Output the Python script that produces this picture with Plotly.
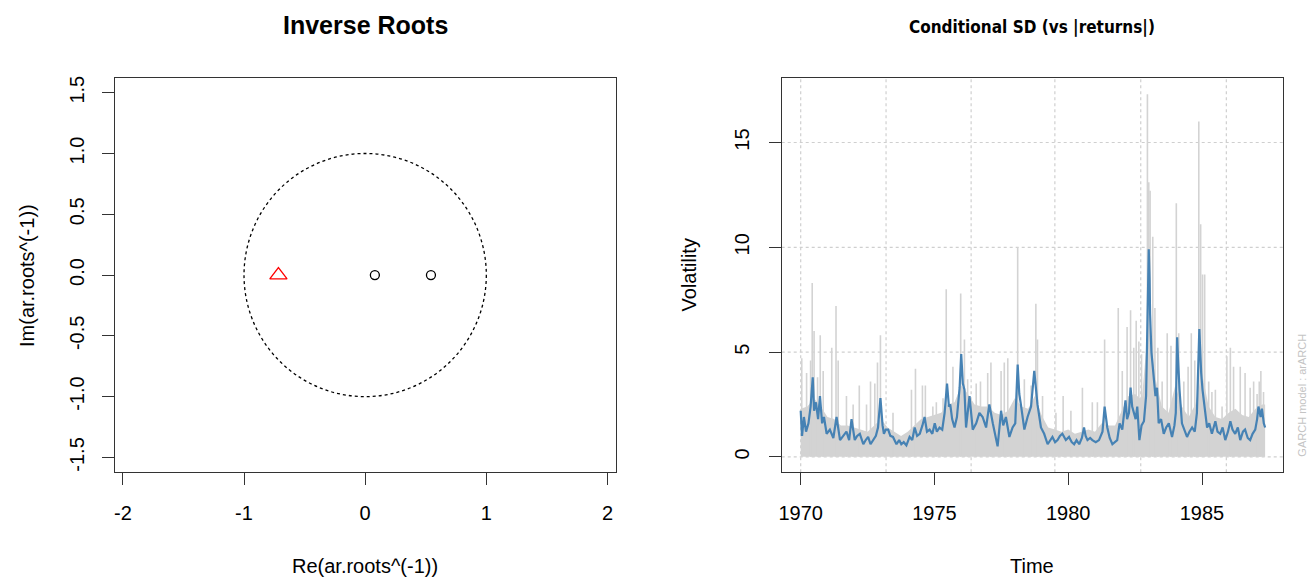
import plotly.graph_objects as go

# ---------------- Left panel data: inverse AR roots ----------------
root_re = [0.08, 0.543]
root_im = [0.0, 0.0]
ma_root_re = [-0.716]
ma_root_im = [0.0]
x_ticks = [-2, -1, 0, 1, 2]
x_tick_text = ["-2", "-1", "0", "1", "2"]
y_ticks = [-1.5, -1.0, -0.5, 0.0, 0.5, 1.0, 1.5]
y_tick_text = ["-1.5", "-1.0", "-0.5", "0.0", "0.5", "1.0", "1.5"]

# ---------------- Right panel data: conditional SD vs |returns| ----------------
sd_time = [1970.00, 1970.05, 1970.12, 1970.20, 1970.29, 1970.37, 1970.45, 1970.50, 1970.57, 1970.65,
           1970.72, 1970.80, 1970.87, 1970.97, 1971.09, 1971.22, 1971.34, 1971.47, 1971.59, 1971.71,
           1971.81, 1971.90, 1972.02, 1972.11, 1972.21, 1972.34, 1972.43, 1972.52, 1972.61, 1972.71,
           1972.81, 1972.89, 1972.98, 1973.06, 1973.11, 1973.18, 1973.27, 1973.35, 1973.45, 1973.58,
           1973.68, 1973.76, 1973.85, 1973.95, 1974.07, 1974.17, 1974.26, 1974.35, 1974.45, 1974.55,
           1974.63, 1974.72, 1974.82, 1974.92, 1975.01, 1975.09, 1975.19, 1975.29, 1975.38, 1975.47,
           1975.54, 1975.59, 1975.66, 1975.75, 1975.84, 1975.94, 1976.00, 1976.06, 1976.12, 1976.18,
           1976.31, 1976.43, 1976.56, 1976.68, 1976.80, 1976.93, 1977.05, 1977.18, 1977.28, 1977.36,
           1977.49, 1977.57, 1977.67, 1977.80, 1977.92, 1978.02, 1978.11, 1978.17, 1978.23, 1978.36,
           1978.48, 1978.61, 1978.73, 1978.79, 1978.85, 1978.98, 1979.10, 1979.23, 1979.33, 1979.41,
           1979.51, 1979.60, 1979.69, 1979.78, 1979.91, 1980.03, 1980.13, 1980.22, 1980.31, 1980.41,
           1980.51, 1980.59, 1980.65, 1980.72, 1980.82, 1980.90, 1981.03, 1981.15, 1981.28, 1981.36,
           1981.46, 1981.55, 1981.65, 1981.75, 1981.83, 1981.92, 1982.02, 1982.14, 1982.20, 1982.27,
           1982.33, 1982.39, 1982.45, 1982.52, 1982.58, 1982.66, 1982.74, 1982.83, 1982.91, 1982.96,
           1982.99, 1983.01, 1983.04, 1983.06, 1983.11, 1983.16, 1983.26, 1983.32, 1983.38, 1983.47,
           1983.57, 1983.66, 1983.76, 1983.88, 1983.97, 1984.02, 1984.07, 1984.11, 1984.16, 1984.25,
           1984.34, 1984.44, 1984.53, 1984.63, 1984.73, 1984.81, 1984.90, 1984.94, 1984.97, 1985.02,
           1985.06, 1985.19, 1985.27, 1985.37, 1985.50, 1985.58, 1985.68, 1985.77, 1985.87, 1985.97,
           1986.06, 1986.14, 1986.24, 1986.34, 1986.43, 1986.53, 1986.61, 1986.71, 1986.80, 1986.89,
           1986.99, 1987.06, 1987.11, 1987.19, 1987.24, 1987.31, 1987.36]
sd_value = [2.2, 1.0, 1.9, 1.2, 1.6, 2.4, 3.8, 2.2, 2.6, 1.8,
            2.9, 1.6, 1.9, 1.1, 1.3, 0.9, 1.9, 0.8, 1.0, 1.2,
            0.8, 1.8, 0.8, 1.0, 1.1, 0.6, 0.8, 0.95, 0.6, 0.8,
            1.0, 1.4, 2.8, 1.5, 1.1, 1.3, 1.3, 1.0, 0.95, 0.6,
            0.8, 0.6, 0.7, 0.55, 0.95, 0.8, 1.4, 1.0, 1.1, 1.5,
            1.9, 1.2, 1.3, 1.1, 1.6, 1.2, 1.4, 1.3, 2.1, 3.5,
            2.4, 2.5, 1.8, 1.4, 1.9, 3.3, 4.9, 3.5, 3.2, 1.4,
            2.9, 1.3, 1.6, 2.1, 1.9, 1.4, 2.5, 1.6, 1.0, 0.5,
            2.2, 1.5, 1.9, 0.95, 1.4, 1.6, 4.4, 3.0, 2.5, 1.3,
            1.9, 2.4, 4.1, 3.4, 2.5, 1.4, 1.1, 0.6, 0.8, 0.95,
            0.7, 0.8, 1.0, 1.1, 0.8, 0.95, 0.7, 0.6, 0.8, 0.6,
            0.9, 1.4, 1.0, 0.8, 0.9, 0.8, 0.7, 0.8, 1.2, 2.4,
            1.4, 0.9, 0.6, 0.7, 0.8, 1.6, 1.3, 2.7, 1.8, 2.1,
            3.3, 2.4, 2.1, 1.8, 2.4, 0.8, 1.5, 1.7, 2.9, 6.5,
            9.0, 9.9, 8.5, 6.8, 5.0, 4.4, 2.9, 3.3, 1.6, 1.8,
            1.1, 1.4, 1.6, 0.95, 1.5, 2.1, 5.7, 4.5, 3.2, 1.6,
            1.3, 0.95, 1.2, 1.4, 1.2, 2.1, 6.1, 4.8, 4.0, 3.2,
            2.7, 1.4, 1.6, 1.1, 1.7, 1.2, 1.1, 1.4, 0.8, 1.2,
            1.7, 1.3, 1.1, 1.4, 0.8, 1.2, 1.3, 0.9, 0.8, 1.1,
            1.3, 1.8, 2.4, 1.9, 2.3, 1.6, 1.4]

# dense band of |returns| (upper edge of the solid grey area)
band_time = [1970.00, 1970.25, 1970.50, 1970.75, 1971.00, 1971.25, 1971.50, 1971.75, 1972.00, 1972.25,
             1972.50, 1972.75, 1973.00, 1973.25, 1973.50, 1973.75, 1974.00, 1974.25, 1974.50, 1974.75,
             1975.00, 1975.25, 1975.50, 1975.75, 1976.00, 1976.25, 1976.50, 1976.75, 1977.00, 1977.25,
             1977.50, 1977.75, 1978.00, 1978.25, 1978.50, 1978.75, 1979.00, 1979.25, 1979.50, 1979.75,
             1980.00, 1980.25, 1980.50, 1980.75, 1981.00, 1981.25, 1981.50, 1981.75, 1982.00, 1982.25,
             1982.50, 1982.75, 1983.00, 1983.25, 1983.50, 1983.75, 1984.00, 1984.25, 1984.50, 1984.75,
             1985.00, 1985.25, 1985.50, 1985.75, 1986.00, 1986.25, 1986.50, 1986.75, 1987.00, 1987.25,
             1987.36]
band_value = [2.3, 2.4, 2.8, 2.4, 1.9, 1.8, 1.5, 1.5, 1.4, 1.3,
              1.2, 1.5, 1.8, 1.4, 1.2, 1.0, 1.2, 1.5, 1.8, 1.9,
              2.0, 2.1, 2.5, 2.6, 3.4, 3.0, 2.5, 2.4, 2.4, 2.1,
              2.0, 2.2, 2.8, 2.4, 2.3, 2.9, 2.0, 1.4, 1.3, 1.2,
              1.3, 1.1, 1.2, 1.3, 1.2, 1.6, 1.5, 1.5, 2.2, 2.9,
              3.0, 2.7, 6.5, 3.8, 2.4, 2.1, 3.4, 2.4, 1.9, 2.5,
              4.0, 2.4, 1.9, 1.8, 2.1, 2.3, 2.0, 1.9, 2.3, 2.5,
              2.5]

# individual tall |returns| spikes
spike_time = [1970.04, 1970.22, 1970.37, 1970.43, 1970.50, 1970.63, 1970.73, 1970.84, 1971.16, 1971.32,
              1971.40, 1971.71, 1971.96, 1972.19, 1972.46, 1972.61, 1972.77, 1972.87, 1972.98, 1973.45,
              1974.14, 1974.29, 1974.55, 1974.66, 1974.94, 1975.07, 1975.32, 1975.44, 1975.69, 1975.98,
              1976.12, 1976.24, 1976.56, 1976.72, 1976.99, 1977.11, 1977.49, 1977.61, 1977.74, 1978.11,
              1978.36, 1978.61, 1978.79, 1978.85, 1979.04, 1979.54, 1979.81, 1980.10, 1980.53, 1980.90,
              1981.09, 1981.36, 1981.87, 1982.02, 1982.20, 1982.33, 1982.45, 1982.54, 1982.64, 1982.74,
              1982.96, 1983.01, 1983.06, 1983.16, 1983.24, 1983.35, 1983.51, 1983.70, 1983.84, 1984.04,
              1984.13, 1984.32, 1984.48, 1984.60, 1984.73, 1984.88, 1984.95, 1985.02, 1985.10, 1985.25,
              1985.37, 1985.50, 1985.75, 1985.93, 1986.06, 1986.18, 1986.43, 1986.61, 1986.80, 1986.93,
              1987.06, 1987.14, 1987.20, 1987.30]
spike_value = [4.7, 4.0, 4.6, 8.3, 6.0, 3.8, 5.8, 4.1, 5.2, 7.2,
               4.6, 2.9, 2.5, 3.4, 2.5, 3.6, 3.5, 4.5, 5.8, 2.1,
               3.2, 4.2, 3.4, 3.4, 2.4, 2.6, 2.8, 8.0, 4.3, 7.8,
               5.6, 3.7, 3.5, 3.6, 4.0, 4.5, 4.1, 4.5, 4.7, 10.0,
               3.7, 3.4, 7.3, 5.6, 2.9, 2.1, 2.9, 2.2, 3.3, 2.6,
               2.6, 5.6, 7.1, 4.1, 6.2, 7.0, 5.2, 6.5, 5.5, 4.9,
               17.3, 13.1, 12.7, 10.5, 7.1, 5.2, 3.6, 5.9, 5.3, 12.1,
               5.9, 3.6, 4.3, 5.9, 4.6, 16.0, 11.1, 8.7, 8.7, 3.6,
               3.1, 3.2, 2.4, 4.8, 5.2, 4.3, 4.3, 4.0, 3.3, 3.6,
               3.0, 3.6, 4.1, 3.1]

# positions of the dotted vertical grid lines (R grid())
grid_x = [1970.0, 1973.19, 1976.37, 1979.50, 1982.71, 1985.91]
grid_y = [0, 5, 10, 15]
year_ticks = [1970, 1975, 1980, 1985]

FONT = "Liberation Sans, Arial, sans-serif"
NARROW = "Liberation Sans Narrow, DejaVu Sans Condensed, Arial Narrow, sans-serif"
W, H = 1309, 580

fig = go.Figure()

# ---- left panel ----
fig.add_shape(type="circle", xref="x", yref="y", x0=-1, y0=-1, x1=1, y1=1,
              line=dict(color="black", width=1.3, dash="dot"))
fig.add_trace(go.Scatter(x=root_re, y=root_im, mode="markers", xaxis="x", yaxis="y",
                         marker=dict(symbol="circle-open", size=9, color="black",
                                     line=dict(width=1.3, color="black")),
                         showlegend=False))
fig.add_trace(go.Scatter(x=ma_root_re, y=ma_root_im, mode="markers", xaxis="x", yaxis="y",
                         marker=dict(symbol="triangle-up-open", size=15, color="red",
                                     line=dict(width=1.3, color="red")),
                         showlegend=False))

# ---- right panel ----
for gx in grid_x:
    fig.add_shape(type="line", xref="x2", yref="y2 domain", x0=gx, x1=gx, y0=0, y1=1,
                  line=dict(color="#cfcfcf", width=1.2, dash="dot"), layer="below")
for gy in grid_y:
    fig.add_shape(type="line", xref="x2 domain", yref="y2", x0=0, x1=1, y0=gy, y1=gy,
                  line=dict(color="#cfcfcf", width=1.2, dash="dot"), layer="below")

fig.add_trace(go.Scatter(x=band_time, y=band_value, mode="lines", xaxis="x2", yaxis="y2",
                         fill="tozeroy", fillcolor="#d3d3d3", line=dict(width=0, color="#d3d3d3"),
                         showlegend=False))
sx, sy = [], []
for t, v in zip(spike_time, spike_value):
    sx += [t, t, None]
    sy += [0, v, None]
fig.add_trace(go.Scatter(x=sx, y=sy, mode="lines", xaxis="x2", yaxis="y2",
                         line=dict(color="#d3d3d3", width=1.6), showlegend=False))
fig.add_trace(go.Scatter(x=sd_time, y=sd_value, mode="lines", xaxis="x2", yaxis="y2",
                         line=dict(color="#4682b4", width=2.2), showlegend=False))

yd = [1 - 472 / H, 1 - 76 / H]
axis_common = dict(showline=True, mirror=True, linecolor="#333333", linewidth=1,
                   ticks="outside", ticklen=12, tickcolor="#333333", tickwidth=1,
                   showgrid=False, zeroline=False,
                   tickfont=dict(family=FONT, size=20, color="black"))

fig.update_layout(
    width=W, height=H,
    margin=dict(l=0, r=0, t=0, b=0),
    paper_bgcolor="white", plot_bgcolor="white",
    xaxis=dict(domain=[112 / W, 614 / W], range=[-2.067, 2.067],
               tickvals=x_ticks, ticktext=x_tick_text, ticklabelstandoff=11, anchor="y",
               **axis_common),
    yaxis=dict(domain=yd, range=[-1.623, 1.623],
               tickvals=y_ticks, ticktext=y_tick_text,
               tickangle=-90, ticklabelstandoff=10, anchor="x", **axis_common),
    xaxis2=dict(domain=[780.5 / W, 1283 / W], range=[1969.29, 1988.03],
                tickvals=year_ticks, ticklabelstandoff=11, anchor="y2", **axis_common),
    yaxis2=dict(domain=yd, range=[-0.741, 18.09], tickvals=grid_y,
                tickangle=-90, ticklabelstandoff=12, anchor="x2", **axis_common),
    annotations=[
        dict(text="<b>Inverse Roots</b>", x=363 / W, y=1 - 23 / H, xref="paper", yref="paper",
             showarrow=False, font=dict(family=FONT, size=25, color="black"),
             xanchor="center", yanchor="middle"),
        dict(text="<b>Conditional SD (vs |returns|)</b>", x=1031 / W, y=1 - 25 / H,
             xref="paper", yref="paper", showarrow=False,
             font=dict(family=NARROW, size=17, color="black"), xanchor="center", yanchor="middle"),
        dict(text="Re(ar.roots^(-1))", x=363 / W, y=1 - 566 / H, xref="paper", yref="paper",
             showarrow=False, font=dict(family=FONT, size=20, color="black"),
             xanchor="center", yanchor="middle"),
        dict(text="Im(ar.roots^(-1))", x=24 / W, y=1 - 274 / H, xref="paper", yref="paper",
             showarrow=False, textangle=-90, font=dict(family=FONT, size=20, color="black"),
             xanchor="center", yanchor="middle"),
        dict(text="Time", x=1031 / W, y=1 - 566 / H, xref="paper", yref="paper",
             showarrow=False, font=dict(family=FONT, size=20, color="black"),
             xanchor="center", yanchor="middle"),
        dict(text="Volatility", x=688 / W, y=1 - 274 / H, xref="paper", yref="paper",
             showarrow=False, textangle=-90, font=dict(family=FONT, size=20, color="black"),
             xanchor="center", yanchor="middle"),
        dict(text="GARCH model : arARCH", x=1302 / W, y=1 - 395 / H, xref="paper", yref="paper",
             showarrow=False, textangle=-90, font=dict(family=FONT, size=11, color="#c4c4c4"),
             xanchor="center", yanchor="middle"),
    ],
)

fig.write_html("out.html")
